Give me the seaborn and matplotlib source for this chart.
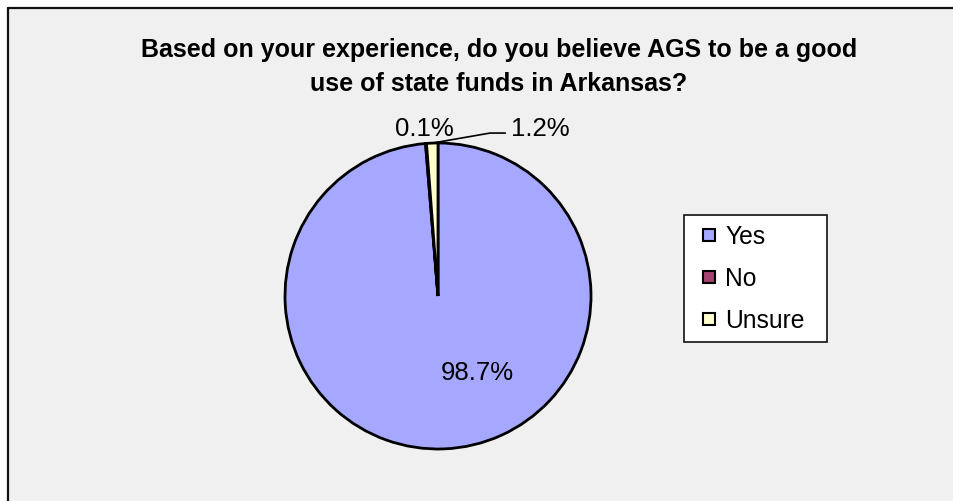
import matplotlib
matplotlib.use("Agg")
import matplotlib.pyplot as plt
from matplotlib.patches import Rectangle
from matplotlib.lines import Line2D
import numpy as np
import seaborn as sns

# Survey responses
categories = ["Yes", "No", "Unsure"]
shares = [98.7, 0.1, 1.2]
colors = ["#A6A8FF", "#A3436F", "#FFFFCC"]
title_lines = ["Based on your experience, do you believe AGS to be a good",
               "use of state funds in Arkansas?"]

sns.set_theme(style="white")
plt.rcParams["font.family"] = ["Liberation Sans", "DejaVu Sans"]
plt.rcParams["text.color"] = "black"

W, H = 954, 502
fig = plt.figure(figsize=(W / 100, H / 100), dpi=100)
fig.patch.set_facecolor("white")

# Chart area panel with a border on the top and left
fig.patches.append(Rectangle((8 / W, 0), 1, 1 - 9 / H, transform=fig.transFigure,
                             facecolor="#F0F0F0", edgecolor="none", zorder=-5))
fig.add_artist(Line2D([8 / W, 8 / W], [0, 1 - 9 / H], color="#111111", lw=1.6,
                      transform=fig.transFigure, zorder=-4))
fig.add_artist(Line2D([8 / W, 1], [1 - 9 / H, 1 - 9 / H], color="#111111", lw=1.6,
                      transform=fig.transFigure, zorder=-4))

fig.text(499 / W, 1 - 50 / H, title_lines[0], ha="center", va="center",
         fontsize=18, fontweight="bold", color="black")
fig.text(499 / W, 1 - 84 / H, title_lines[1], ha="center", va="center",
         fontsize=18, fontweight="bold", color="black")

cx, cy, r = 438, 297, 153
ax = fig.add_axes([(cx - r) / W, (H - cy - r) / H, 2 * r / W, 2 * r / H], zorder=2)
ax.set_facecolor("none")
wedges, _ = ax.pie(shares, colors=colors, startangle=90, counterclock=False,
                   wedgeprops=dict(edgecolor="black", linewidth=2.0))
ax.set_xlim(-1, 1)
ax.set_ylim(-1, 1)
ax.set_aspect("auto")
ax.axis("off")

labels = [f"{v:.1f}%" for v in shares]
fs = 18.5
# Yes label inside the large wedge
ax.text(0.26, -0.50, labels[0], ha="center", va="center", fontsize=fs, color="black")
# No label above the top of the pie
ax.text(-0.09, 1.10, labels[1], ha="center", va="center", fontsize=fs,
        color="black", clip_on=False)
# Unsure label with a leader line from its wedge
w = wedges[2]
mid = np.deg2rad((w.theta1 + w.theta2) / 2)
x0, y0 = np.cos(mid), np.sin(mid)
ax.plot([x0, 0.34, 0.44], [y0, 1.065, 1.065], color="black", lw=1.2, clip_on=False)
ax.text(0.48, 1.10, labels[2], ha="left", va="center", fontsize=fs,
        color="black", clip_on=False)

handles = [Line2D([], [], marker="s", linestyle="none", markersize=8,
                  markerfacecolor=c, markeredgecolor="black", markeredgewidth=1.5)
           for c in colors]
leg = fig.legend(handles, categories, loc="upper left",
                 bbox_to_anchor=(684 / W, 1 - 216 / H, 143 / W, 0.0), mode="expand",
                 fontsize=17.7, frameon=True, fancybox=False, borderpad=0.38,
                 labelspacing=0.73, handlelength=1.3, handletextpad=0.0,
                 borderaxespad=0)
for t in leg.get_texts():
    t.set_color("black")
leg.get_frame().set_edgecolor("#111111")
leg.get_frame().set_linewidth(1.2)
leg.get_frame().set_facecolor("white")
leg.get_frame().set_alpha(1)

fig.savefig("out.png", dpi=100)
